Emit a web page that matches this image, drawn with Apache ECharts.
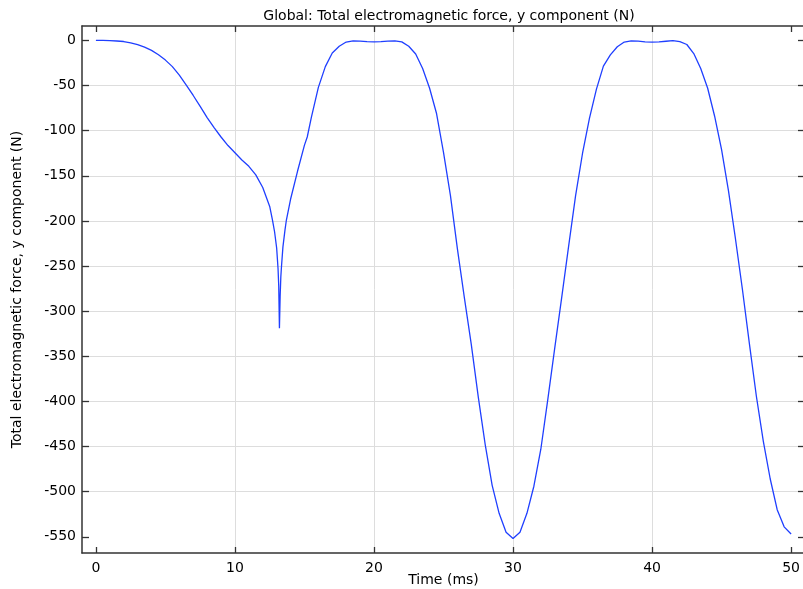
<!DOCTYPE html>
<html>
<head>
<meta charset="utf-8">
<script src="https://cdn.jsdelivr.net/npm/echarts@6/dist/echarts.min.js"></script>
<style>
html,body{margin:0;padding:0;background:#fff;overflow:hidden;}
#chart{width:803px;height:589px;}
</style>
</head>
<body>
<div id="chart"></div>
<script>
var titleText = 'Global: Total electromagnetic force, y component (N)';
var xName = 'Time (ms)';
var yName = 'Total electromagnetic force, y component (N)';

var timeMs = [0,0.5,1,1.5,2,2.5,3,3.5,4,4.5,5,5.5,6,6.5,7,7.5,8,8.5,9,9.5,10,10.5,11,11.5,12,12.5,12.7,12.85,13,13.1,13.15,13.2,13.25,13.3,13.35,13.45,13.6,13.7,14,14.5,15,15.2,15.5,16,16.5,17,17.5,18,18.5,19,19.5,20,20.5,21,21.5,22,22.5,23,23.5,24,24.5,25,25.5,26,26.5,27,27.5,28,28.5,29,29.5,30,30.5,31,31.5,32,32.5,33,33.5,34,34.5,35,35.5,36,36.5,37,37.5,38,38.5,39,39.5,40,40.5,41,41.5,42,42.5,43,43.5,44,44.5,45,45.5,46,46.5,47,47.5,48,48.5,49,49.5,50];

var forceN = [0,0,-0.2,-0.6,-1.2,-2.6,-4.6,-7.4,-11,-15.8,-21.8,-29,-38.5,-49.5,-61,-73,-85.5,-96.5,-107,-116.5,-124.5,-132.5,-139.5,-149,-163,-184,-199,-212,-230,-253,-272,-319,-284,-262,-250,-229,-210,-199,-176,-145,-116,-107,-85,-52,-29,-14,-6.4,-1.8,-0.4,-0.7,-1.3,-1.6,-1.4,-0.8,-0.4,-1.6,-6.5,-15,-31,-53,-81,-124,-172,-231,-285,-337,-395,-448,-493,-524,-545,-552,-545,-524,-494,-453,-398,-341,-285,-228,-172,-125,-86,-54,-28.5,-16,-7,-1.8,-0.4,-0.8,-1.5,-1.9,-1.6,-0.9,-0.2,-1.4,-4.5,-14.5,-31,-53,-84,-121,-167,-220,-276,-336,-394,-444,-486,-520,-539,-547];

var xTicks = [0,10,20,30,40,50];
var yTicks = [0,-50,-100,-150,-200,-250,-300,-350,-400,-450,-500,-550];

var xRange = [-1, 51];
var yRange = [-568, 16];

var seriesData = timeMs.map(function(t, i){ return [t, forceN[i]]; });

var FONT = 'DejaVu Sans';
var FS = 14;
var axisColor = '#333333';
var gridColor = '#dddddd';

var chart = echarts.init(document.getElementById('chart'), null, {renderer:'canvas'});
var option = {
  animation: false,
  backgroundColor: '#ffffff',
  title: {
    text: titleText,
    left: 444,
    textAlign: 'center',
    top: 4,
    textStyle: {fontFamily: FONT, fontSize: FS, fontWeight: 'normal', color: '#000'}
  },
  grid: {left: 82, top: 26, width: 723, height: 527, containLabel: false, outerBoundsMode: 'none', show: false},
  xAxis: [{
    type: 'value', min: xRange[0], max: xRange[1],
    name: xName, nameLocation: 'middle', nameGap: 20, nameMoveOverlap: false,
    nameTextStyle: {fontFamily: FONT, fontSize: FS, color: '#000'},
    axisLine: {show: true, onZero: false, lineStyle: {color: axisColor, width: 1.5}},
    axisTick: {show: true, inside: true, length: 6, customValues: xTicks, lineStyle: {color: axisColor, width: 1.3}},
    axisLabel: {show: true, customValues: xTicks, margin: 8, fontFamily: FONT, fontSize: FS, color: '#000'},
    splitLine: {show: true, showMinLine: false, showMaxLine: false, lineStyle: {color: gridColor, width: 1}}
  },{
    type: 'value', min: xRange[0], max: xRange[1], position: 'top',
    axisLine: {show: true, onZero: false, lineStyle: {color: axisColor, width: 1.5}},
    axisTick: {show: true, inside: true, length: 6, customValues: xTicks, lineStyle: {color: axisColor, width: 1.3}},
    axisLabel: {show: false, customValues: xTicks},
    splitLine: {show: false}
  }],
  yAxis: [{
    type: 'value', min: yRange[0], max: yRange[1],
    name: yName, nameLocation: 'middle', nameGap: 58, nameRotate: 90, nameMoveOverlap: false,
    nameTextStyle: {fontFamily: FONT, fontSize: FS, color: '#000'},
    axisLine: {show: true, onZero: false, lineStyle: {color: axisColor, width: 1.5}},
    axisTick: {show: true, inside: true, length: 7, customValues: yTicks, lineStyle: {color: axisColor, width: 1.3}},
    axisLabel: {show: true, customValues: yTicks, margin: 6, fontFamily: FONT, fontSize: FS, color: '#000'},
    splitLine: {show: true, showMinLine: false, showMaxLine: false, lineStyle: {color: gridColor, width: 1}}
  },{
    type: 'value', min: yRange[0], max: yRange[1], position: 'right',
    axisLine: {show: false, onZero: false},
    axisTick: {show: true, inside: true, length: 7, customValues: yTicks, lineStyle: {color: axisColor, width: 1.3}},
    axisLabel: {show: false, customValues: yTicks},
    splitLine: {show: false}
  }],
  series: [{
    type: 'line',
    data: seriesData,
    xAxisIndex: 0, yAxisIndex: 0,
    showSymbol: false,
    smooth: false,
    clip: true,
    lineStyle: {color: '#1f3fff', width: 1.3},
    emphasis: {disabled: true}
  }]
};
chart.setOption(option);
</script>
</body>
</html>
